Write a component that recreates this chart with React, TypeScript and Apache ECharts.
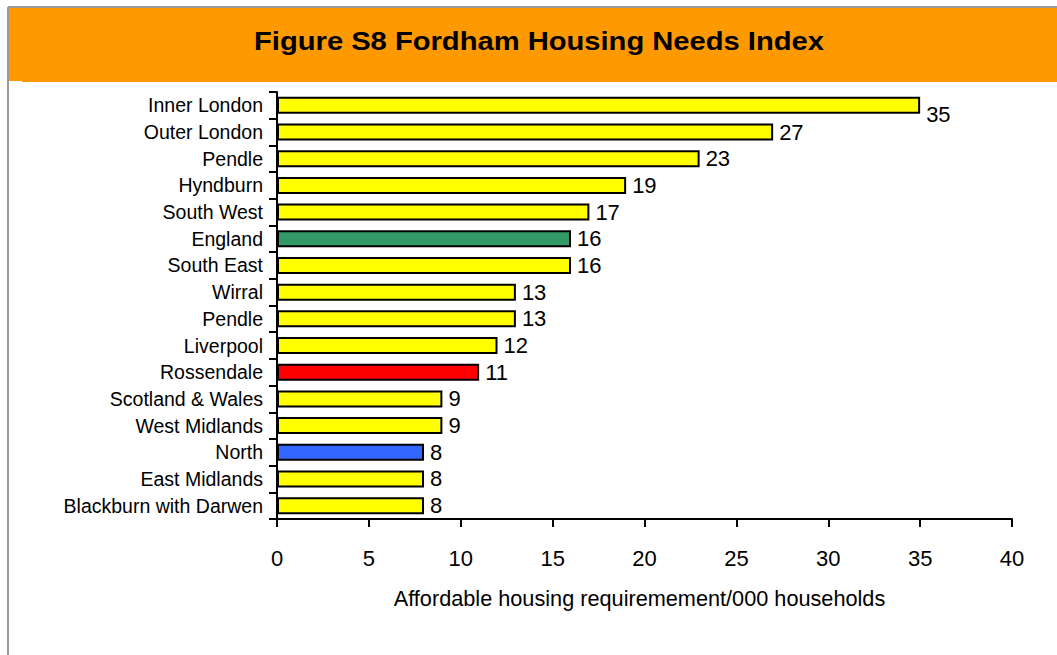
import React, { useEffect, useRef } from "react";
import * as echarts from "echarts";

const categories = [
  "Inner London",
  "Outer London",
  "Pendle",
  "Hyndburn",
  "South West",
  "England",
  "South East",
  "Wirral",
  "Pendle",
  "Liverpool",
  "Rossendale",
  "Scotland & Wales",
  "West Midlands",
  "North",
  "East Midlands",
  "Blackburn with Darwen",
];
const values = [35, 27, 23, 19, 17, 16, 16, 13, 13, 12, 11, 9, 9, 8, 8, 8];
const barColors = [
  "#FFFF00", "#FFFF00", "#FFFF00", "#FFFF00", "#FFFF00", "#339966", "#FFFF00", "#FFFF00",
  "#FFFF00", "#FFFF00", "#FF0000", "#FFFF00", "#FFFF00", "#3366FF", "#FFFF00", "#FFFF00",
];
const xTicks = [0, 5, 10, 15, 20, 25, 30, 35, 40];
const titleText = "Figure S8 Fordham Housing Needs Index";
const axisTitle = "Affordable housing requiremement/000 households";

export default function App() {
  const ref = useRef<HTMLDivElement>(null);
  useEffect(() => {
    if (!ref.current) return;
    const chart = echarts.init(ref.current, null, { renderer: "svg" });
    const font = "'Liberation Sans', Arial, sans-serif";
    chart.setOption({
      animation: false,
      backgroundColor: "#ffffff",
      textStyle: { fontFamily: font },
      graphic: [
        { type: "rect", shape: { x: 9, y: 8, width: 1048, height: 74 }, style: { fill: "#FF9900" }, z: 1 },
        { type: "rect", shape: { x: 9, y: 81, width: 13, height: 2 }, style: { fill: "#ffffff" }, z: 2 },
        { type: "line", shape: { x1: 8, y1: 7, x2: 1057, y2: 7 }, style: { stroke: "#9a9a9a", lineWidth: 2 }, z: 3 },
        { type: "line", shape: { x1: 8, y1: 7, x2: 8, y2: 655 }, style: { stroke: "#9a9a9a", lineWidth: 2 }, z: 3 },
        {
          type: "text",
          x: 539,
          y: 41,
          scaleX: 1.1,
          style: {
            text: titleText,
            fill: "#000000",
            font: `bold 26.5px ${font}`,
            textAlign: "center",
            textVerticalAlign: "middle",
          },
          z: 4,
        },
      ],
      grid: { left: 277, right: 45, top: 92, bottom: 136, containLabel: false },
      xAxis: {
        type: "value",
        min: 0,
        max: 40,
        interval: 5,
        splitLine: { show: false },
        axisLine: { show: true, lineStyle: { color: "#000", width: 2 } },
        axisTick: { show: true, length: 8, lineStyle: { color: "#000", width: 2 } },
        axisLabel: {
          color: "#000",
          fontSize: 22,
          fontFamily: font,
          margin: 28,
          customValues: xTicks,
        },
        name: axisTitle,
        nameLocation: "middle",
        nameGap: 68,
        nameTextStyle: {
          color: "#000",
          fontSize: 21.7,
          fontFamily: font,
          padding: [0, 10, 0, 0],
        },
      },
      yAxis: {
        type: "category",
        data: categories,
        inverse: true,
        axisLine: { show: true, lineStyle: { color: "#000", width: 2 } },
        axisTick: { show: true, length: 8, lineStyle: { color: "#000", width: 2 } },
        axisLabel: { color: "#000", fontSize: 19.5, fontFamily: font, margin: 14 },
        splitLine: { show: false },
      },
      series: [
        {
          type: "bar",
          barWidth: 17,
          data: values.map((v, i) => ({
            value: v,
            itemStyle: { color: barColors[i], borderColor: "#000", borderWidth: 2 },
            label: i === 0 ? { offset: [0, 9] } : undefined,
          })),
          label: {
            show: true,
            position: "right",
            distance: 6,
            color: "#000",
            fontSize: 22,
            fontFamily: font,
          },
        },
      ],
    });
    return () => chart.dispose();
  }, []);
  return (
    <div
      ref={ref}
      style={{ position: "fixed", left: 0, top: 0, width: 1057, height: 655 }}
    />
  );
}
